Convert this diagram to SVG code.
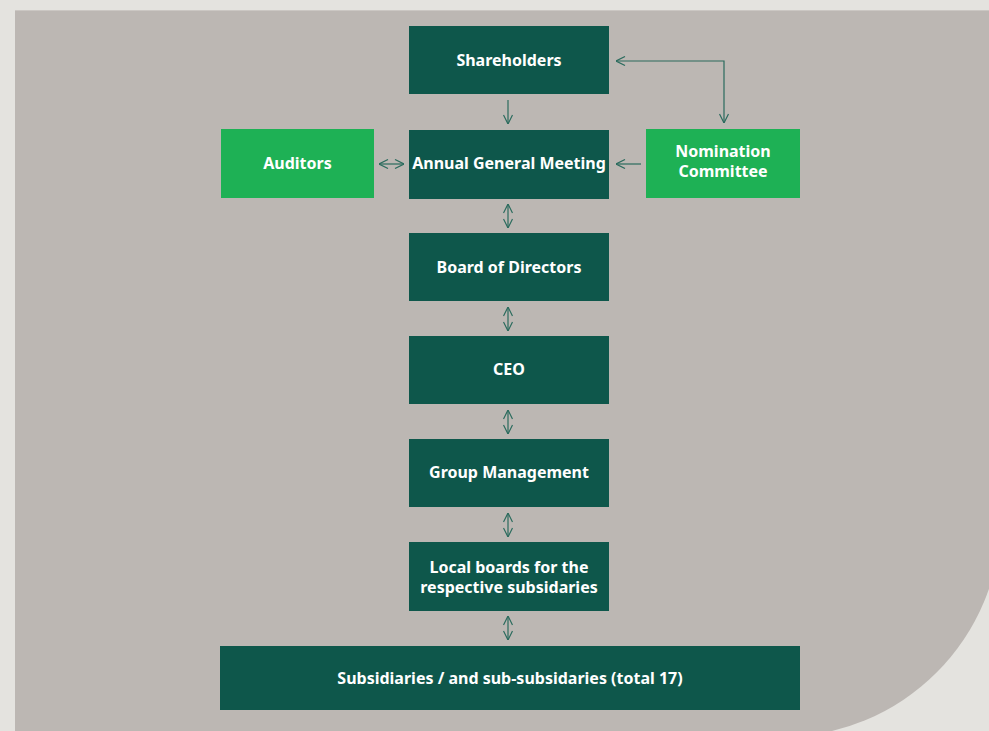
<svg xmlns="http://www.w3.org/2000/svg" width="989" height="731" viewBox="0 0 989 731">
<defs>
<style>
.dk{fill:#0E574B}
.lt{fill:#1EB155}
.t{font-family:"Noto Sans","Open Sans","Liberation Sans",sans-serif;font-weight:bold;font-size:16px;fill:#FFFFFF;text-anchor:middle;dominant-baseline:central}
.c{fill:none;stroke:#2A6B5D;stroke-width:1.2}
</style>
<marker id="ah" viewBox="0 0 10 10" refX="10" refY="5" markerWidth="10" markerHeight="10" markerUnits="userSpaceOnUse" orient="auto-start-reverse">
<path d="M1,0.5 L10,5 L1,9.5" fill="none" stroke="#2A6B5D" stroke-width="1.2"/>
</marker>
</defs>
<rect x="0" y="0" width="989" height="731" fill="#E4E3DF"/>
<path d="M15,10 H1001 V517 A220,220 0 0 1 781,737 H15 Z" fill="#BCB7B3"/>
<line x1="15" y1="10.5" x2="989" y2="10.5" stroke="#CBC7C3" stroke-width="1"/>
<g id="connectors">
<line class="c" x1="508" y1="100" x2="508" y2="124" marker-end="url(#ah)"/>
<line class="c" x1="379" y1="164" x2="404" y2="164" marker-start="url(#ah)" marker-end="url(#ah)"/>
<line class="c" x1="641" y1="164" x2="616" y2="164" marker-end="url(#ah)"/>
<path class="c" d="M616,61 H724 V123" marker-start="url(#ah)" marker-end="url(#ah)"/>
<line class="c" x1="508" y1="204" x2="508" y2="228" marker-start="url(#ah)" marker-end="url(#ah)"/>
<line class="c" x1="508" y1="307" x2="508" y2="331" marker-start="url(#ah)" marker-end="url(#ah)"/>
<line class="c" x1="508" y1="410" x2="508" y2="434" marker-start="url(#ah)" marker-end="url(#ah)"/>
<line class="c" x1="508" y1="513" x2="508" y2="537" marker-start="url(#ah)" marker-end="url(#ah)"/>
<line class="c" x1="508" y1="616" x2="508" y2="640" marker-start="url(#ah)" marker-end="url(#ah)"/>
</g>
<g id="shareholders"><rect class="dk" x="409" y="26" width="200" height="68"/><text class="t" x="509" y="60">Shareholders</text></g>
<g id="agm"><rect class="dk" x="409" y="130" width="200" height="69"/><text class="t" x="509" y="163">Annual General Meeting</text></g>
<g id="auditors"><rect class="lt" x="221" y="129" width="153" height="69"/><text class="t" x="297.5" y="163">Auditors</text></g>
<g id="nomination"><rect class="lt" x="646" y="129" width="154" height="69"/><text class="t" x="723" y="151">Nomination</text><text class="t" x="723" y="171">Committee</text></g>
<g id="board"><rect class="dk" x="409" y="233" width="200" height="68"/><text class="t" x="509" y="267">Board of Directors</text></g>
<g id="ceo"><rect class="dk" x="409" y="336" width="200" height="68"/><text class="t" x="509" y="369">CEO</text></g>
<g id="group-management"><rect class="dk" x="409" y="439" width="200" height="68"/><text class="t" x="509" y="472">Group Management</text></g>
<g id="local-boards"><rect class="dk" x="409" y="542" width="200" height="69"/><text class="t" x="509" y="567">Local boards for the</text><text class="t" x="509" y="587">respective subsidaries</text></g>
<g id="subsidiaries"><rect class="dk" x="220" y="646" width="580" height="64"/><text class="t" x="510" y="678">Subsidiaries / and sub-subsidaries (total 17)</text></g>
</svg>
